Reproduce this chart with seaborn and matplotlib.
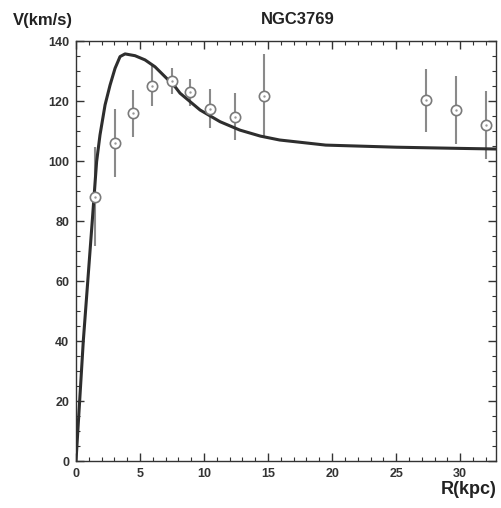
import matplotlib
matplotlib.use("Agg")
import matplotlib.pyplot as plt
from matplotlib.ticker import MultipleLocator
import seaborn as sns
import pandas as pd

# Observed rotation curve points (kpc, km/s) and errors
r_obs = [1.48, 3.05, 4.48, 5.94, 7.52, 8.90, 10.5, 12.4, 14.7, 27.3, 29.7, 32.0]
v_obs = [88.1, 105.9, 115.9, 125.1, 126.7, 122.9, 117.4, 114.8, 121.8, 120.3, 117.0, 112.1]
v_err = [16.5, 11.3, 7.8, 6.8, 4.3, 4.6, 6.5, 7.8, 14.0, 10.5, 11.3, 11.4]

# Model curve
r_model = [0.0, 0.57, 1.27, 1.61, 1.875, 2.27, 2.66, 3.05, 3.44, 3.83, 4.61, 5.39,
           6.17, 6.95, 7.73, 8.125, 9.69, 11.25, 12.8, 14.4, 15.9, 19.5, 25.0, 30.0, 32.8]
v_model = [0.0, 40.0, 80.0, 99.8, 108.7, 118.7, 125.3, 130.9, 134.8, 135.7, 135.1, 133.7,
           131.4, 128.1, 124.8, 122.6, 117.0, 113.1, 110.3, 108.3, 107.0, 105.3, 104.6, 104.2, 104.0]

title = "NGC3769"
xlabel = "R(kpc)"
ylabel = "V(km/s)"

sns.set_theme(style="ticks")
plt.rcParams['font.family'] = ['Liberation Sans', 'DejaVu Sans']

fig = plt.figure(figsize=(5.02, 5.08), dpi=100)
ax = fig.add_axes([76/502, 47/508, 420/502, 420/508])

df_model = pd.DataFrame({"R": r_model, "V": v_model})
df_obs = pd.DataFrame({"R": r_obs, "V": v_obs, "err": v_err})

ax.errorbar(df_obs["R"], df_obs["V"], yerr=df_obs["err"], fmt="none",
            ecolor="#8a8a8a", elinewidth=1.5, capsize=0, zorder=2)
sns.lineplot(data=df_model, x="R", y="V", ax=ax, color="#2e2e2e", linewidth=2.2,
             sort=False, zorder=3)
sns.scatterplot(data=df_obs, x="R", y="V", ax=ax, s=55, facecolor="white",
                edgecolor="#7a7a7a", linewidth=1.2, zorder=4)
sns.scatterplot(data=df_obs, x="R", y="V", ax=ax, s=3, color="#9a9a9a",
                linewidth=0, zorder=5)

ax.set_xlim(0, 32.8)
ax.set_ylim(0, 140)
ax.xaxis.set_major_locator(MultipleLocator(5))
ax.xaxis.set_minor_locator(MultipleLocator(1))
ax.yaxis.set_major_locator(MultipleLocator(20))
ax.yaxis.set_minor_locator(MultipleLocator(5))
ax.tick_params(which="both", direction="in", top=True, right=True,
               color="#333333", labelcolor="#333333")
ax.tick_params(which="major", length=6, width=1, labelsize=9, pad=5)
ax.tick_params(which="minor", length=3, width=0.8)
for lab in ax.get_xticklabels() + ax.get_yticklabels():
    lab.set_fontweight("bold")
for s in ax.spines.values():
    s.set_color("#333333")
    s.set_linewidth(1.0)

ax.set_xlabel("")
ax.set_ylabel("")
fig.text(13/502, 1 - 20/508, ylabel, ha="left", va="center", fontsize=12,
         fontweight="bold", color="#222222")
fig.text(298/502, 1 - 20/508, title, ha="center", va="center", fontsize=12,
         fontweight="bold", color="#222222")
fig.text(497/502, 1 - 490/508, xlabel, ha="right", va="center", fontsize=13,
         fontweight="bold", color="#222222")

fig.savefig("out.png", dpi=100)
